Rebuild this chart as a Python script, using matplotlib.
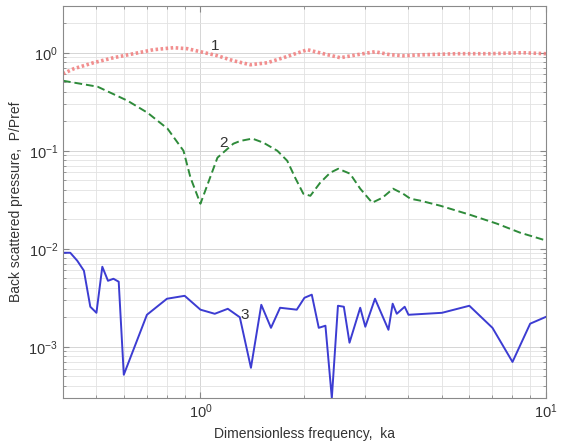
import numpy as np
import matplotlib
matplotlib.use("Agg")
import matplotlib.pyplot as plt
from matplotlib.ticker import LogLocator, NullFormatter

# curve 1 - red dotted
ka_1 = [0.40, 0.43, 0.49, 0.56, 0.64, 0.73, 0.836, 0.917, 1.0, 1.12, 1.245, 1.395,
        1.56, 1.737, 1.92, 2.04, 2.27, 2.54, 2.84, 3.2, 3.54, 3.86, 4.41, 5.53,
        6.89, 8.58, 10.0]
p_1 = [0.61, 0.687, 0.79, 0.889, 0.977, 1.073, 1.125, 1.099, 1.024, 0.932, 0.829, 0.754,
       0.79, 0.889, 1.0, 1.073, 0.977, 0.889, 0.954, 1.024, 0.954, 0.932, 0.954, 0.977,
       0.977, 1.0, 0.977]

# curve 2 - green dashed
ka_2 = [0.40, 0.504, 0.615, 0.703, 0.803, 0.893, 0.936, 1.0, 1.12, 1.245, 1.305, 1.413,
        1.52, 1.669, 1.783, 1.88, 1.985, 2.08, 2.22, 2.375, 2.505, 2.71, 2.90, 3.14,
        3.36, 3.61, 3.86, 4.05, 4.32, 4.94, 6.03, 7.22, 8.41, 9.8, 10.0]
p_2 = [0.518, 0.45, 0.324, 0.244, 0.168, 0.1, 0.053, 0.0288, 0.085, 0.118, 0.126, 0.133,
       0.121, 0.1, 0.079, 0.053, 0.0364, 0.0347, 0.0471, 0.0597, 0.0655, 0.0583, 0.041, 0.0295,
       0.0331, 0.041, 0.0364, 0.0324, 0.031, 0.0275, 0.0222, 0.018, 0.0146, 0.0124, 0.0122]

# curve 3 - blue solid
ka_3 = [0.40, 0.42, 0.44, 0.46, 0.48, 0.50, 0.52, 0.54, 0.56, 0.58, 0.60, 0.70, 0.80,
        0.90, 1.0, 1.1, 1.2, 1.3, 1.4, 1.5, 1.6, 1.7, 1.9, 2.0, 2.1, 2.2, 2.3, 2.4,
        2.5, 2.6, 2.7, 2.9, 3.0, 3.2, 3.5, 3.6, 3.7, 3.9, 4.0, 5.0, 6.0, 7.0, 8.0,
        9.0, 10.0]
p_3 = [0.0091, 0.0091, 0.00755, 0.00597, 0.00256, 0.00222, 0.00655, 0.00471, 0.00494,
       0.00461, 0.000518, 0.00212, 0.00309, 0.00331, 0.00239, 0.00217, 0.00244, 0.0020,
       0.00061, 0.00268, 0.00156, 0.0025, 0.00239, 0.00316, 0.0034, 0.00156, 0.00164,
       0.0003, 0.00262, 0.00256, 0.0011, 0.0025, 0.0016, 0.00309, 0.00149, 0.00275,
       0.00217, 0.00256, 0.00212, 0.00222, 0.00262, 0.00156, 0.0007, 0.00172, 0.00202]

plt.rcParams['font.family'] = ['Liberation Sans', 'DejaVu Sans']

fig = plt.figure(figsize=(5.62, 4.45), dpi=100)
ax = fig.add_axes([0.112, 0.1056, 0.8595, 0.881])

ax.plot(ka_1, p_1, linestyle=(0, (0.7, 0.7)), color='#f07c7c', linewidth=2.6, alpha=0.85)
ax.plot(ka_2, p_2, linestyle=(0, (4, 2)), color='#2e8b3a', linewidth=1.4)
ax.plot(ka_3, p_3, linestyle='-', color='#3c3cd2', linewidth=1.4)

ax.set_xscale('log')
ax.set_yscale('log')
ax.set_xlim(0.4, 10)
ax.set_ylim(3e-4, 3)

ax.xaxis.set_minor_locator(LogLocator(base=10, subs=np.arange(2, 10)))
ax.yaxis.set_minor_locator(LogLocator(base=10, subs=np.arange(2, 10)))
ax.xaxis.set_minor_formatter(NullFormatter())
ax.yaxis.set_minor_formatter(NullFormatter())

ax.grid(True, which='major', color='#cfcfcf', linestyle='-', linewidth=0.6)
ax.grid(True, which='minor', color='#e2e2e2', linestyle='-', linewidth=0.6)

ax.tick_params(which='both', direction='in', top=True, right=True,
               colors='#888888', labelcolor='#333333', labelsize=10.5)
ax.tick_params(which='major', length=4)
ax.tick_params(which='minor', length=2)
for s in ax.spines.values():
    s.set_color('#8a8a8a')

ax.text(1.105, 1.18, '1', fontsize=11, color='#333333', ha='center', va='center')
ax.text(1.165, 0.121, '2', fontsize=11, color='#333333', ha='center', va='center')
ax.text(1.34, 0.0021, '3', fontsize=11, color='#333333', ha='center', va='center')

ax.set_xlabel('Dimensionless frequency,  ka', fontsize=10, color='#333333', labelpad=4)
ax.set_ylabel('Back scattered pressure,  P/Pref', fontsize=10, color='#333333', labelpad=4)

fig.savefig('out.png', dpi=100)
